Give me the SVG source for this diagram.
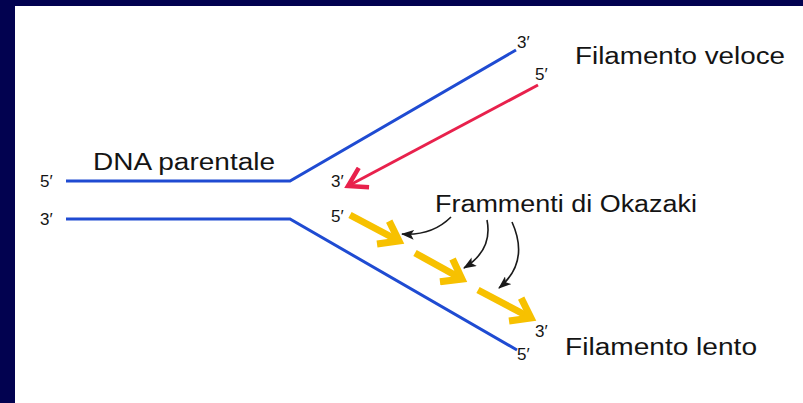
<svg xmlns="http://www.w3.org/2000/svg" width="803" height="403" viewBox="0 0 803 403">
  <style>
    .strand { fill: none; stroke: #1f4bd2; stroke-width: 3; stroke-linejoin: miter; }
    .lbl { font-family: "Liberation Sans", Arial, sans-serif; fill: #141414; }
    .end { font-size: 17px; }
    .big { font-size: 23px; }
    .frag { fill: none; stroke: #f7c100; stroke-width: 7; }
    .ptr { fill: none; stroke: #1a1a1a; stroke-width: 1.6; }
  </style>
  <defs>
    <marker id="redHead" markerUnits="userSpaceOnUse" viewBox="0 0 26 26" refX="21" refY="13" markerWidth="26" markerHeight="26" orient="auto">
      <path d="M3,2 L21,13 L3,24" fill="none" stroke="#e8214c" stroke-width="4.5"/>
    </marker>
    <marker id="yelHead" markerUnits="userSpaceOnUse" viewBox="0 0 32 32" refX="23" refY="16" markerWidth="32" markerHeight="32" orient="auto">
      <path d="M5,3 L23,16 L5,29" fill="none" stroke="#f7c100" stroke-width="7"/>
    </marker>
    <marker id="blkHead" markerUnits="userSpaceOnUse" viewBox="0 0 14 10" refX="12" refY="5" markerWidth="14" markerHeight="10" orient="auto">
      <path d="M0,0 L13,5 L0,10 L3,5 Z" fill="#1a1a1a"/>
    </marker>
  </defs>

  <rect x="0" y="0" width="803" height="403" fill="#ffffff"/>
  <g id="frame">
    <rect x="0" y="0" width="803" height="6" fill="#020250"/>
    <rect x="0" y="0" width="15" height="403" fill="#020250"/>
  </g>

  <g id="connectors">
    <path id="upper-strand" class="strand" d="M66,181 L290,181 L516,50"/>
    <path id="lower-strand" class="strand" d="M66,219 L290,219 L517,350"/>
    <path id="leading" d="M538,85 L348,186" fill="none" stroke="#e8214c" stroke-width="3" marker-end="url(#redHead)"/>
    <path class="frag" d="M350,215 L399,241" marker-end="url(#yelHead)"/>
    <path class="frag" d="M415,253 L462,279" marker-end="url(#yelHead)"/>
    <path class="frag" d="M478,290 L531,318" marker-end="url(#yelHead)"/>
    <path class="ptr" d="M451,217 Q432,236 402,234" marker-end="url(#blkHead)"/>
    <path class="ptr" d="M487,220 Q493,250 464,268" marker-end="url(#blkHead)"/>
    <path class="ptr" d="M512,222 Q530,262 499,288" marker-end="url(#blkHead)"/>
  </g>

  <g id="label-dna">
    <text class="lbl big" x="93" y="170" textLength="182" lengthAdjust="spacingAndGlyphs">DNA parentale</text>
  </g>
  <g id="label-veloce">
    <text class="lbl big" x="575" y="64" textLength="210" lengthAdjust="spacingAndGlyphs">Filamento veloce</text>
  </g>
  <g id="label-lento">
    <text class="lbl big" x="565" y="355" textLength="192" lengthAdjust="spacingAndGlyphs">Filamento lento</text>
  </g>
  <g id="label-okazaki">
    <text class="lbl big" x="435" y="212" textLength="262" lengthAdjust="spacingAndGlyphs">Frammenti di Okazaki</text>
  </g>
  <g id="ends">
    <text class="lbl end" x="40" y="187">5′</text>
    <text class="lbl end" x="40" y="225">3′</text>
    <text class="lbl end" x="517" y="48">3′</text>
    <text class="lbl end" x="535" y="80">5′</text>
    <text class="lbl end" x="331" y="187">3′</text>
    <text class="lbl end" x="331" y="222">5′</text>
    <text class="lbl end" x="535" y="337">3′</text>
    <text class="lbl end" x="517" y="360">5′</text>
  </g>
</svg>
